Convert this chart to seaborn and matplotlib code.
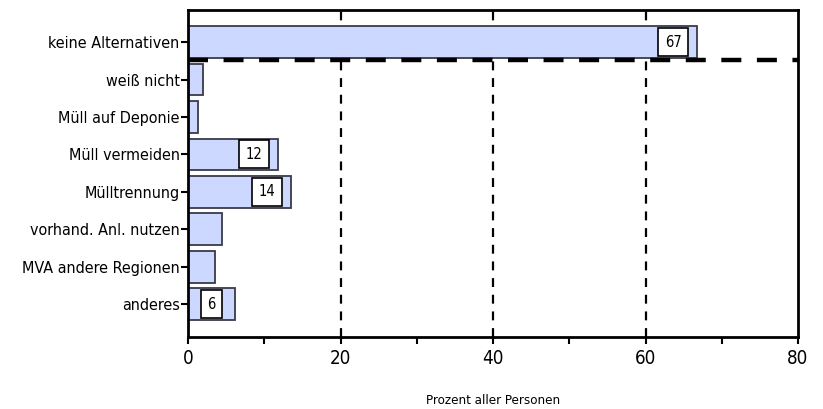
import matplotlib
matplotlib.use("Agg")
import matplotlib.pyplot as plt
import seaborn as sns
import pandas as pd

categories = ["keine Alternativen", "weiß nicht", "Müll auf Deponie", "Müll vermeiden",
              "Mülltrennung", "vorhand. Anl. nutzen", "MVA andere Regionen", "anderes"]
values = [66.8, 2.0, 1.3, 11.8, 13.5, 4.5, 3.6, 6.2]
box_labels = ["67", None, None, "12", "14", None, None, "6"]
xticks = [0, 20, 40, 60, 80]
xlabel = "Prozent aller Personen"

sns.set_theme(style="white")
plt.rcParams['font.family'] = ['DejaVu Sans']
plt.rcParams['font.stretch'] = 'condensed'

df = pd.DataFrame({"cat": categories, "val": values})

fig = plt.figure(figsize=(8.23, 4.09), dpi=100)
ax = fig.add_axes([188/823, 1-337/409, (798-188)/823, (337-10)/409])

sns.barplot(data=df, y="cat", x="val", orient="h", color="#ccd8ff", saturation=1,
            edgecolor="#3a3a48", linewidth=1.3, width=0.85, ax=ax, zorder=2)

ax.set_xlim(0, 80)
ax.set_ylim(7.88, -0.86)
ax.set_xticks(xticks)
ax.set_xticks([10, 30, 50, 70], minor=True)
ax.set_xticklabels([str(t) for t in xticks], fontsize=13.5)
ax.tick_params(axis="y", labelsize=11.5, length=5, width=1.5, direction="out", left=True, pad=1, colors="black")
ax.tick_params(axis="x", which="both", length=5, width=1.5, direction="out", bottom=True, pad=4, colors="black")
for lab in ax.get_xticklabels() + ax.get_yticklabels():
    lab.set_color("black")
    lab.set_fontstretch("condensed")
ax.set_ylabel("")
ax.set_xlabel("")
fig.text((188 + 798) / 2 / 823, 1 - 401 / 409, xlabel, fontsize=9.5, ha="center", va="center",
         color="black", fontstretch="condensed")

for s in ax.spines.values():
    s.set_visible(True)
    s.set_color("black")
    s.set_linewidth(2)

for t in [20, 40, 60]:
    ax.axvline(t, color="black", lw=1.6, ls=(0, (4, 3.5)), zorder=1)
ax.axhline(0.48, color="black", lw=3.2, ls=(0, (4.5, 3.5)), zorder=3)

for i, (v, lab) in enumerate(zip(values, box_labels)):
    if lab is None:
        continue
    ax.annotate(lab, xy=(v, i), xytext=(-24, 0), textcoords="offset pixels",
                ha="center", va="center", fontsize=10.5, color="black", zorder=4,
                fontstretch="condensed",
                bbox=dict(boxstyle="square,pad=0.45", fc="white", ec="black", lw=1.2))

fig.savefig("out.png", dpi=100)
